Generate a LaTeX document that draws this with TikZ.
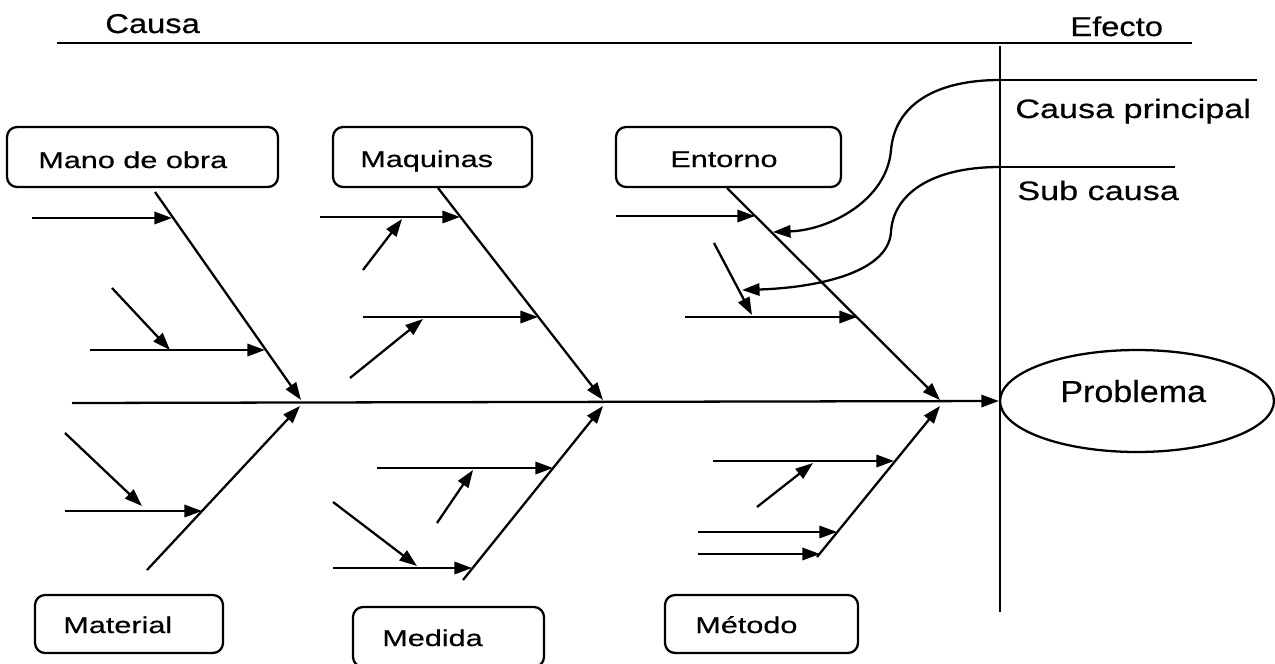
\documentclass[tikz,border=0pt]{standalone}
\usepackage{fontspec}
\setmainfont{Liberation Sans}
\newfontfamily\lblfont[FakeStretch=1.34,FakeBold=0.6]{Liberation Sans}
\newfontfamily\hdfont[FakeStretch=1.2,FakeBold=0.5]{Liberation Sans}
\newfontfamily\notefont[FakeStretch=1.28,FakeBold=0.5]{Liberation Sans}
\newfontfamily\probfont[FakeStretch=1.12,FakeBold=0.5]{Liberation Sans}
\usetikzlibrary{arrows.meta,shapes.geometric}

\tikzset{
  ln/.style={line width=1.3pt},
  arr/.style={line width=1.3pt, -{Triangle[length=10pt,width=7pt]}},
  catbox/.style={draw, line width=1.3pt, rounded corners=0.2cm, inner sep=0pt},
  txt/.style={anchor=base west, inner sep=0pt},
  lbl/.style={txt, font=\lblfont\fontsize{13pt}{15pt}\selectfont},
  hd/.style={txt, font=\hdfont\fontsize{15.5pt}{18pt}\selectfont},
  note/.style={txt, font=\notefont\fontsize{15.2pt}{18pt}\selectfont},
}

\begin{document}
\begin{tikzpicture}[x=0.02cm, y=-0.02cm]
\useasboundingbox (0,0) rectangle (1275,663);

% headings and frame
\node[hd] (causa) at (105,33) {Causa};
\node[hd] (efecto) at (1070,36) {Efecto};
\coordinate (topL) at (57,43);
\coordinate (topR) at (1192,43);
\draw[ln] (topL) -- (topR);
\coordinate (vT) at (1000,46);
\coordinate (vB) at (1000,612);
\draw[ln] (vT) -- (vB);

% legend
\coordinate (cpL) at (1000,80);
\coordinate (cpR) at (1257,80);
\draw[ln] (cpL) -- (cpR);
\node[note] (cptext) at (1015,118) {Causa principal};
\coordinate (scL) at (1000,167);
\coordinate (scR) at (1175,167);
\draw[ln] (scL) -- (scR);
\node[note] (sctext) at (1017,200) {Sub causa};

% effect
\node[draw, ellipse, line width=1.3pt, minimum width=5.48cm, minimum height=2.04cm, inner sep=0pt] (prob) at (1137,401) {};
\node[txt, font=\probfont\fontsize{17.3pt}{20pt}\selectfont] (probt) at (1060,402) {Problema};

% category boxes
\node[catbox, minimum width=5.42cm, minimum height=1.2cm] (bmo) at (142.5,157) {};
\node[lbl] (tmo) at (38,168) {Mano de obra};
\node[catbox, minimum width=3.98cm, minimum height=1.2cm] (bmq) at (432.5,157) {};
\node[lbl] (tmq) at (360,167) {Maquinas};
\node[catbox, minimum width=4.5cm, minimum height=1.2cm] (ben) at (728.5,157) {};
\node[lbl] (ten) at (670,167) {Entorno};
\node[catbox, minimum width=3.76cm, minimum height=1.16cm] (bma) at (129,624) {};
\node[lbl] (tma) at (63,633) {Material};
\node[catbox, minimum width=3.82cm, minimum height=1.2cm] (bme) at (448.5,637) {};
\node[lbl] (tme) at (382,646) {Medida};
\node[catbox, minimum width=3.86cm, minimum height=1.16cm] (bmt) at (761.5,624) {};
\node[lbl] (tmt) at (695,633) {Método};

% spine
\coordinate (spS) at (72,403);
\draw[arr] (spS) -- (prob.west);

% Mano de obra bone
\coordinate (moS) at (155,192);  \coordinate (moE) at (301,400);
\draw[arr] (moS) -- (moE);
\coordinate (mo1a) at (32,218);  \coordinate (mo1b) at (172,218);
\draw[arr] (mo1a) -- (mo1b);
\coordinate (mo2a) at (90,350);  \coordinate (mo2b) at (265,350);
\draw[arr] (mo2a) -- (mo2b);
\coordinate (mo3a) at (112,288); \coordinate (mo3b) at (170,350);
\draw[arr] (mo3a) -- (mo3b);

% Material bone
\coordinate (maS) at (147,570);  \coordinate (maE) at (300,406);
\draw[arr] (maS) -- (maE);
\coordinate (ma1a) at (65,511);  \coordinate (ma1b) at (202,511);
\draw[arr] (ma1a) -- (ma1b);
\coordinate (ma2a) at (65,433);  \coordinate (ma2b) at (142,506);
\draw[arr] (ma2a) -- (ma2b);

% Maquinas bone
\coordinate (mqS) at (438,188);  \coordinate (mqE) at (603,400);
\draw[arr] (mqS) -- (mqE);
\coordinate (mq1a) at (320,217); \coordinate (mq1b) at (460,217);
\draw[arr] (mq1a) -- (mq1b);
\coordinate (mq2a) at (363,270); \coordinate (mq2b) at (402,219);
\draw[arr] (mq2a) -- (mq2b);
\coordinate (mq3a) at (363,317); \coordinate (mq3b) at (538,317);
\draw[arr] (mq3a) -- (mq3b);
\coordinate (mq4a) at (350,378); \coordinate (mq4b) at (423,319);
\draw[arr] (mq4a) -- (mq4b);

% Medida bone
\coordinate (meS) at (463,580);  \coordinate (meE) at (603,406);
\draw[arr] (meS) -- (meE);
\coordinate (me1a) at (377,468); \coordinate (me1b) at (553,468);
\draw[arr] (me1a) -- (me1b);
\coordinate (me2a) at (437,523); \coordinate (me2b) at (473,470);
\draw[arr] (me2a) -- (me2b);
\coordinate (me3a) at (333,568); \coordinate (me3b) at (472,568);
\draw[arr] (me3a) -- (me3b);
\coordinate (me4a) at (333,502); \coordinate (me4b) at (417,566);
\draw[arr] (me4a) -- (me4b);

% Entorno bone
\coordinate (enS) at (727,188);  \coordinate (enE) at (940,400);
\draw[arr] (enS) -- (enE);
\coordinate (en1a) at (616,216); \coordinate (en1b) at (755,216);
\draw[arr] (en1a) -- (en1b);
\coordinate (en2a) at (714,243); \coordinate (en2b) at (752,315);
\draw[arr] (en2a) -- (en2b);
\coordinate (en3a) at (685,317); \coordinate (en3b) at (857,317);
\draw[arr] (en3a) -- (en3b);

% Metodo bone
\coordinate (mtS) at (817,557);  \coordinate (mtE) at (940,406);
\draw[arr] (mtS) -- (mtE);
\coordinate (mt1a) at (713,461); \coordinate (mt1b) at (894,461);
\draw[arr] (mt1a) -- (mt1b);
\coordinate (mt2a) at (757,507); \coordinate (mt2b) at (813,463);
\draw[arr] (mt2a) -- (mt2b);
\coordinate (mt3a) at (698,532); \coordinate (mt3b) at (837,532);
\draw[arr] (mt3a) -- (mt3b);
\coordinate (mt4a) at (698,554); \coordinate (mt4b) at (820,554);
\draw[arr] (mt4a) -- (mt4b);

% legend pointers
\coordinate (cpT) at (773,232);
\coordinate (scT) at (742,290);
\draw[arr] (cpL) .. controls (935,80) and (895,105) .. (891,150)
               .. controls (887,200) and (830,230) .. (cpT);
\draw[arr] (scL) .. controls (930,167) and (893,195) .. (891,232)
               .. controls (888,275) and (810,288) .. (scT);
\end{tikzpicture}
\end{document}
